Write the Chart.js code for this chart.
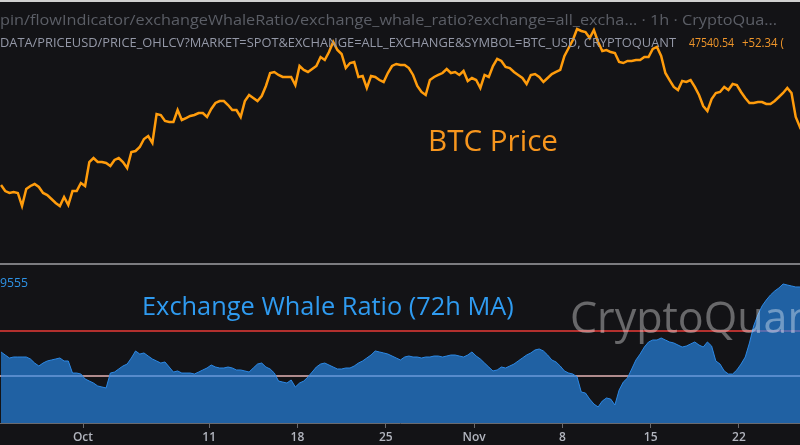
<!DOCTYPE html>
<html>
<head>
<meta charset="utf-8">
<title>BTC Price vs Exchange Whale Ratio</title>
<script src="https://cdn.jsdelivr.net/npm/chart.js@4.4.0/dist/chart.umd.min.js"></script>
<style>
  html, body { margin: 0; padding: 0; background: #131316; }
  #wrap { position: relative; width: 800px; height: 445px; overflow: hidden; background: #131316; font-family: "Open Sans", sans-serif; }
  #cPrice { position: absolute; left: 0; top: 0; }
  #cRatio { position: absolute; left: 0; top: 265px; }
  #topBar { position: absolute; left: 0; top: 0; width: 800px; height: 2px; background: #d0d0d0; }
  #sep { position: absolute; left: 0; top: 263px; width: 800px; height: 2px; background: #7c7c80; }
  .txt { position: absolute; white-space: nowrap; line-height: normal; transform-origin: 0 0; }
</style>
</head>
<body>
<div id="wrap">
  <canvas id="cPrice" width="800" height="264"></canvas>
  <canvas id="cRatio" width="800" height="180"></canvas>
  <div id="topBar"></div>
  <div id="sep"></div>

  <div class="txt" id="hdr1" style="color:#5b5e66;font-size:14px">pin/flowIndicator/exchangeWhaleRatio/exchange_whale_ratio?exchange=all_excha... · 1h · CryptoQua...</div>
  <div class="txt" id="hdr2" style="color:#9498a7;font-size:13.5px">DATA/PRICEUSD/PRICE_OHLCV?MARKET=SPOT&amp;EXCHANGE=ALL_EXCHANGE&amp;SYMBOL=BTC_USD, CRYPTOQUANT</div>
  <div class="txt" id="lastPrice" style="color:#f0962a;font-size:13.5px">47540.54</div>
  <div class="txt" id="lastChange" style="color:#f0962a;font-size:13.5px">+52.34 (</div>
  <div class="txt" id="lblPrice" style="color:#f7961e;font-size:26px">BTC Price</div>
  <div class="txt" id="lblRatioVal" style="color:#2e93e6;font-size:13px">9555</div>
  <div class="txt" id="lblRatio" style="color:#2f9bf0;font-size:25px">Exchange Whale Ratio (72h MA)</div>
  <div class="txt" id="watermark" style="color:rgba(255,255,255,0.36);font-size:43px">CryptoQuant</div>
</div>

<script>
// time axis: days counted from 1 Oct 2021 00:00
var START_DAY = -6.5;      // first sample, 24 Sep 12:00
var STEP_DAY = 1 / 3;      // one sample every 8h
var X_MIN = -6.58;
var X_MAX = 56.84;

var tickDays = [0, 10, 17, 24, 31, 38, 45, 52];
var tickLabels = ['Oct', '11', '18', '25', 'Nov', '8', '15', '22'];

// BTC/USD, 8h samples
var btcPrice = [
    44430, 43480, 43170, 43330, 43170, 41110, 43800, 44280, 44590, 44120,
    43170, 42850, 42220, 41590, 41110, 42530, 41270, 43480, 43480, 44750,
    44280, 48070, 48700, 48070, 48070, 47910, 47440, 48390, 48700, 48070,
    47120, 49650, 49810, 50440, 51710, 52180, 51080, 55670, 55510, 54560,
    54400, 54400, 56300, 54720, 55030, 55350, 55510, 55820, 55820, 55190,
    56460, 57410, 57720, 57720, 57090, 56300, 56300, 55190, 57720, 58670,
    58200, 57720, 58510, 60100, 62150, 62310, 61840, 61520, 61520, 61520,
    60250, 63260, 62630, 62310, 62780, 63260, 64680, 64210, 65470, 67060,
    65790, 65160, 62940, 63730, 63890, 61520, 61680, 59780, 61680, 61520,
    61040, 60730, 62150, 63260, 63580, 63420, 63420, 62940, 61840, 60100,
    59150, 58670, 61040, 61520, 61840, 62150, 62780, 62150, 62310, 61840,
    62470, 60890, 61360, 61040, 59780, 61840, 61520, 63260, 64370, 64050,
    63100, 62940, 62310, 61840, 61360, 60410, 61840, 61990, 61520, 60730,
    61360, 61990, 62310, 62630, 64840, 66110, 67370, 69110, 68800, 68640,
    67690, 68950, 67060, 65630, 65790, 65470, 65320, 63890, 63730, 64050,
    64050, 64210, 64210, 64680, 64680, 65950, 66270, 64840, 62150, 61040,
    59940, 59460, 60890, 60730, 61040, 59940, 58670, 56930, 56140, 58040,
    58990, 59150, 59940, 59460, 60410, 60250, 59150, 58200, 57410, 57410,
    57560, 57560, 57250, 57250, 57720, 58350, 58990, 59780, 58990, 55190,
    53610, 54720
];

// exchange whale ratio, 72h MA, same 8h samples
var whaleRatio = [
    0.8767, 0.8733, 0.8700, 0.8711, 0.8711, 0.8711, 0.8711, 0.8689, 0.8644, 0.8611,
    0.8644, 0.8667, 0.8678, 0.8689, 0.8700, 0.8667, 0.8667, 0.8533, 0.8533, 0.8522,
    0.8467, 0.8444, 0.8422, 0.8389, 0.8378, 0.8367, 0.8533, 0.8544, 0.8578, 0.8611,
    0.8633, 0.8700, 0.8778, 0.8744, 0.8756, 0.8722, 0.8689, 0.8667, 0.8644, 0.8656,
    0.8600, 0.8544, 0.8556, 0.8533, 0.8533, 0.8533, 0.8522, 0.8544, 0.8567, 0.8589,
    0.8622, 0.8600, 0.8589, 0.8589, 0.8600, 0.8589, 0.8567, 0.8567, 0.8556, 0.8544,
    0.8589, 0.8633, 0.8644, 0.8600, 0.8578, 0.8533, 0.8444, 0.8433, 0.8422, 0.8456,
    0.8378, 0.8422, 0.8444, 0.8489, 0.8544, 0.8600, 0.8633, 0.8644, 0.8622, 0.8600,
    0.8578, 0.8578, 0.8589, 0.8589, 0.8611, 0.8644, 0.8667, 0.8700, 0.8733, 0.8778,
    0.8767, 0.8756, 0.8744, 0.8722, 0.8700, 0.8678, 0.8711, 0.8722, 0.8711, 0.8711,
    0.8700, 0.8711, 0.8711, 0.8722, 0.8722, 0.8711, 0.8722, 0.8733, 0.8733, 0.8722,
    0.8711, 0.8733, 0.8767, 0.8722, 0.8689, 0.8644, 0.8600, 0.8556, 0.8567, 0.8600,
    0.8589, 0.8611, 0.8633, 0.8667, 0.8700, 0.8733, 0.8756, 0.8789, 0.8800, 0.8778,
    0.8733, 0.8678, 0.8656, 0.8611, 0.8556, 0.8533, 0.8522, 0.8489, 0.8322, 0.8311,
    0.8244, 0.8189, 0.8156, 0.8222, 0.8256, 0.8244, 0.8178, 0.8344, 0.8433, 0.8478,
    0.8578, 0.8678, 0.8744, 0.8822, 0.8878, 0.8900, 0.8900, 0.8922, 0.8900, 0.8878,
    0.8867, 0.8844, 0.8822, 0.8833, 0.8856, 0.8878, 0.8844, 0.8822, 0.8878, 0.8833,
    0.8667, 0.8633, 0.8556, 0.8522, 0.8522, 0.8567, 0.8633, 0.8711, 0.8867, 0.9056,
    0.9178, 0.9278, 0.9344, 0.9400, 0.9444, 0.9478, 0.9522, 0.9511, 0.9500, 0.9489,
    0.9489, 0.9489
];

var redLevel = 0.90;
var pinkLevel = 0.85;

var priceMin = 31935, priceMax = 73700;
var ratioMin = 0.7978, ratioMax = 0.9733;

function toPoints(arr) {
    return arr.map(function (v, i) {
        return { x: START_DAY + i * STEP_DAY, y: v };
    });
}

function levelLine(v) {
    return [{ x: X_MIN, y: v }, { x: X_MAX, y: v }];
}

new Chart(document.getElementById('cPrice'), {
    type: 'line',
    data: {
        datasets: [{
            data: toPoints(btcPrice),
            borderColor: '#ff9c0c',
            borderWidth: 2.5,
            pointRadius: 0,
            tension: 0,
        }],
    },
    options: {
        responsive: false,
        animation: false,
        events: [],
        layout: { padding: 0 },
        plugins: { legend: { display: false }, tooltip: { enabled: false } },
        scales: {
            x: { type: 'linear', min: X_MIN, max: X_MAX, display: false },
            y: { min: priceMin, max: priceMax, display: false },
        },
    },
});

new Chart(document.getElementById('cRatio'), {
    type: 'line',
    data: {
        datasets: [
            {
                data: toPoints(whaleRatio),
                borderColor: 'rgba(45,140,235,0.95)',
                borderWidth: 1,
                backgroundColor: 'rgba(40,140,240,0.65)',
                fill: 'start',
                pointRadius: 0,
                tension: 0,
                order: 0,
            },
            {
                data: levelLine(pinkLevel),
                borderColor: '#e6b4b4',
                borderWidth: 1.5,
                pointRadius: 0,
                order: 1,
            },
            {
                data: levelLine(redLevel),
                borderColor: '#b3302e',
                borderWidth: 2,
                pointRadius: 0,
                order: 2,
            },
        ],
    },
    options: {
        responsive: false,
        animation: false,
        events: [],
        layout: { padding: 0 },
        plugins: { legend: { display: false }, tooltip: { enabled: false } },
        scales: {
            x: {
                type: 'linear',
                min: X_MIN,
                max: X_MAX,
                afterBuildTicks: function (s) {
                    s.ticks = tickDays.map(function (d) { return { value: d }; });
                },
                afterFit: function (s) { s.height = 22; },
                ticks: {
                    color: '#b2b5be',
                    font: { family: 'Open Sans', size: 12, weight: '600' },
                    padding: 2,
                    maxRotation: 0,
                    autoSkip: false,
                    callback: function (v, i) { return tickLabels[i]; },
                },
                grid: { display: true, drawOnChartArea: false, drawTicks: true, tickLength: 5, color: '#6a6a6e' },
                border: { display: true, color: '#6a6a6e', width: 1 },
            },
            y: { min: ratioMin, max: ratioMax, display: false },
        },
    },
});

// text overlays: left edge, baseline, target width
// mode 'size' scales the font, 'squeeze' compresses horizontally
function place(id, left, baseline, width, mode) {
    var el = document.getElementById(id);
    if (width && mode === 'size') {
        var s = parseFloat(getComputedStyle(el).fontSize);
        el.style.fontSize = (s * width / el.getBoundingClientRect().width) + 'px';
    }
    var m = document.createElement('span');
    m.style.display = 'inline-block';
    m.style.width = '0';
    m.style.height = '0';
    el.appendChild(m);
    el.style.left = left + 'px';
    el.style.top = (baseline - m.offsetTop) + 'px';
    if (width && mode === 'squeeze') {
        el.style.transform = 'scaleX(' + (width / el.getBoundingClientRect().width) + ')';
    }
}

place('hdr1', 0, 25, 777, 'squeeze');
place('hdr2', 0, 47, 676, 'squeeze');
place('lastPrice', 689, 47, 45, 'squeeze');
place('lastChange', 742, 47, 42, 'squeeze');
place('lblPrice', 428, 151, 130, 'size');
place('lblRatioVal', 0, 287, 28, 'size');
place('lblRatio', 142, 315, 372, 'size');
place('watermark', 570, 333);
</script>
</body>
</html>
